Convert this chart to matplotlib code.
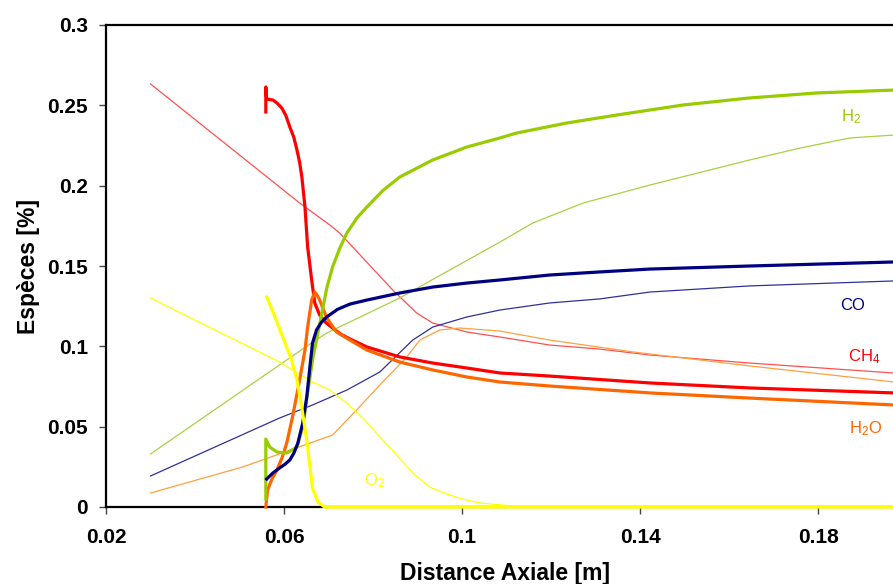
import numpy as np
import matplotlib
matplotlib.use("Agg")
import matplotlib.pyplot as plt

plt.rcParams['font.family'] = ['Liberation Sans', 'DejaVu Sans']
plt.rcParams['mathtext.fontset'] = 'custom'
plt.rcParams['mathtext.rm'] = 'Liberation Sans'
plt.rcParams['mathtext.default'] = 'regular'

# thin lines (second model), start at x = 0.03
x_ch4_b = [0.030, 0.0635, 0.0703, 0.0725, 0.0844, 0.0898, 0.0934, 0.1011, 0.1085, 0.1197, 0.1309, 0.1422, 0.1646, 0.197]
y_ch4_b = [0.2633, 0.1892, 0.1755, 0.1705, 0.1351, 0.1207, 0.1145, 0.1089, 0.1058, 0.1008, 0.0983, 0.0946, 0.0896, 0.0834]

x_h2o_b = [0.030, 0.0507, 0.0709, 0.0763, 0.0815, 0.0876, 0.0905, 0.0950, 0.0995, 0.1085, 0.1197, 0.1384, 0.1646, 0.197]
y_h2o_b = [0.0087, 0.0249, 0.0448, 0.0604, 0.0759, 0.0934, 0.1039, 0.1102, 0.1114, 0.1095, 0.1039, 0.0965, 0.0878, 0.0778]

x_h2_b = [0.030, 0.0606, 0.0665, 0.0696, 0.086, 0.0972, 0.1085, 0.1159, 0.1272, 0.1422, 0.1646, 0.1759, 0.1871, 0.197]
y_h2_b = [0.0330, 0.0915, 0.1027, 0.1083, 0.1301, 0.1475, 0.1649, 0.1768, 0.1892, 0.2004, 0.2160, 0.2234, 0.2297, 0.2315]

x_co_b = [0.030, 0.0590, 0.0664, 0.0741, 0.0815, 0.0889, 0.0934, 0.1011, 0.1085, 0.1197, 0.1309, 0.1422, 0.1646, 0.197]
y_co_b = [0.0193, 0.0554, 0.0635, 0.0728, 0.0840, 0.1039, 0.1120, 0.1183, 0.1226, 0.1270, 0.1295, 0.1338, 0.1376, 0.1407]

x_o2_b = [0.030, 0.0590, 0.0664, 0.0703, 0.0741, 0.0777, 0.0815, 0.0853, 0.0889, 0.0927, 0.0965, 0.1001, 0.1039, 0.1114, 0.1197, 0.197]
y_o2_b = [0.1301, 0.0902, 0.0778, 0.0728, 0.0647, 0.0554, 0.0436, 0.0324, 0.0212, 0.0124, 0.0081, 0.0050, 0.0025, 0.0006, 0.0, 0.0]

# thick lines (first model), start at x = 0.056
x_ch4_a = [0.0559, 0.0559, 0.0561, 0.0575, 0.0584, 0.0595, 0.0604, 0.0613, 0.0622, 0.0629, 0.0635, 0.0640, 0.0647,
           0.0653, 0.0662, 0.0669, 0.0680, 0.0694, 0.0709, 0.0728, 0.0748, 0.0786, 0.0860, 0.0934, 0.1011, 0.1085,
           0.1197, 0.1422, 0.1646, 0.197]
y_ch4_a = [0.2459, 0.2614, 0.2539, 0.2533, 0.2515, 0.2483, 0.2437, 0.2365, 0.2300, 0.2222, 0.2145, 0.2054, 0.1867,
           0.1618, 0.1413, 0.1270, 0.1195, 0.1147, 0.1114, 0.1075, 0.1046, 0.0996, 0.0934, 0.0896, 0.0865, 0.0834,
           0.0815, 0.0772, 0.0741, 0.0710]

x_h2o_a = [0.0559, 0.0563, 0.0573, 0.0584, 0.0596, 0.0606, 0.0619, 0.0635, 0.0647, 0.0653, 0.0662, 0.0669, 0.0674,
           0.0680, 0.0696, 0.0718, 0.0748, 0.0786, 0.0860, 0.0934, 0.1011, 0.1085, 0.1197, 0.1422, 0.1646, 0.197]
y_h2o_a = [0.0, 0.0106, 0.0175, 0.0230, 0.0310, 0.0398, 0.0560, 0.0790, 0.0977, 0.1120, 0.1288, 0.1338, 0.1320,
           0.1288, 0.1176, 0.1089, 0.1039, 0.0977, 0.0902, 0.0853, 0.0809, 0.0778, 0.0753, 0.0710, 0.0678, 0.0635]

x_h2_a = [0.0559, 0.0559, 0.0568, 0.0584, 0.0606, 0.0629, 0.0642, 0.0653, 0.0664, 0.0676, 0.0685, 0.0696, 0.0709,
          0.0725, 0.0741, 0.0764, 0.0786, 0.0822, 0.0860, 0.0934, 0.1011, 0.1085, 0.1123, 0.1235, 0.1348, 0.1496,
          0.1646, 0.1797, 0.197]
y_h2_a = [0.0050, 0.0423, 0.0373, 0.0342, 0.0336, 0.0373, 0.0498, 0.0710, 0.0915, 0.1083, 0.1207, 0.1363, 0.1494,
          0.1610, 0.1705, 0.1800, 0.1867, 0.1970, 0.2054, 0.2160, 0.2241, 0.2297, 0.2328, 0.2390, 0.2440, 0.2502,
          0.2546, 0.2577, 0.2595]

x_co_a = [0.0561, 0.0575, 0.0590, 0.0603, 0.0613, 0.0622, 0.0631, 0.0642, 0.0651, 0.0658, 0.0664, 0.0673, 0.0684,
          0.0696, 0.0720, 0.0748, 0.0786, 0.0860, 0.0934, 0.1011, 0.1085, 0.1197, 0.1309, 0.1422, 0.1646, 0.197]
y_co_a = [0.0174, 0.0212, 0.0243, 0.0268, 0.0293, 0.0335, 0.0398, 0.0523, 0.0685, 0.0871, 0.1021, 0.1102, 0.1150,
          0.1183, 0.1230, 0.1263, 0.1288, 0.1332, 0.1369, 0.1394, 0.1413, 0.1444, 0.1463, 0.1481, 0.1500, 0.1525]

x_o2_a = [0.0561, 0.0575, 0.0597, 0.0617, 0.0629, 0.0640, 0.0651, 0.0658, 0.0664, 0.0676, 0.0691, 0.197]
y_o2_a = [0.1307, 0.1214, 0.1058, 0.0915, 0.0790, 0.0616, 0.0417, 0.0255, 0.0118, 0.0031, 0.0, 0.0]

xticks = [0.02, 0.06, 0.1, 0.14, 0.18]
xtick_labels = ["0.02", "0.06", "0.1", "0.14", "0.18"]
yticks = [0, 0.05, 0.1, 0.15, 0.2, 0.25, 0.3]
ytick_labels = ["0", "0.05", "0.1", "0.15", "0.2", "0.25", "0.3"]

fig = plt.figure(figsize=(8.93, 5.84), dpi=100)
ax = fig.add_axes([106 / 893, 1 - 507 / 584, 787 / 893, 482 / 584])

thin = 0.9
thick = 2.3
ax.plot(x_ch4_b, y_ch4_b, color='#FF5050', lw=thin, clip_on=False, zorder=3)
ax.plot(x_h2o_b, y_h2o_b, color='#FFA040', lw=thin, clip_on=False, zorder=3)
ax.plot(x_h2_b, y_h2_b, color='#A8D040', lw=thin, clip_on=False, zorder=3)
ax.plot(x_co_b, y_co_b, color='#30309A', lw=thin, clip_on=False, zorder=3)
ax.plot(x_o2_b, y_o2_b, color='#FFFF00', lw=thin, clip_on=False, zorder=3)

ax.plot(x_ch4_a, y_ch4_a, color='#FF0000', lw=thick, clip_on=False, zorder=4)
ax.plot(x_h2o_a, y_h2o_a, color='#FF6600', lw=thick, clip_on=False, zorder=4)
ax.plot(x_h2_a, y_h2_a, color='#99CC00', lw=thick, clip_on=False, zorder=4)
ax.plot(x_co_a, y_co_a, color='#000080', lw=thick, clip_on=False, zorder=4)
ax.plot(x_o2_a, y_o2_a, color='#FFFF00', lw=thick, clip_on=False, zorder=4)

# series labels
lab = dict(fontsize=12, ha='center', va='center')
ax.text(0.1873, 0.2427, "H$_2$", color='#99CC00', **lab)
ax.text(0.1878, 0.1257, "CO", color='#000080', **lab)
ax.text(0.1903, 0.0934, "CH$_4$", color='#FF0000', **lab)
ax.text(0.1907, 0.0486, "H$_2$O", color='#FF6600', **lab)
ax.text(0.0804, 0.0162, "O$_2$", color='#FFFF00', **lab)

ax.set_xlim(0.02, 0.1968)
ax.set_ylim(0, 0.3)
ax.set_xticks(xticks)
ax.set_xticklabels(xtick_labels, fontsize=15, fontweight='bold')
ax.set_yticks(yticks)
ax.set_yticklabels(ytick_labels, fontsize=15, fontweight='bold')
ax.tick_params(axis='x', length=5, width=1, color='#444444', pad=10)
ax.tick_params(axis='y', length=5, width=1, color='#444444', pad=8)

for s in ['left', 'bottom', 'top']:
    ax.spines[s].set_linewidth(1.6)
    ax.spines[s].set_color('black')
ax.spines['right'].set_visible(False)

ax.set_xlabel("Distance Axiale [m]", fontsize=16.5, fontweight='bold', va='center')
ax.set_ylabel("Espèces [%]", fontsize=16.5, fontweight='bold', va='center')
ax.xaxis.set_label_coords(0.5075, -0.139)
ax.yaxis.set_label_coords(-0.099, 0.5)

fig.savefig("out.png", dpi=100)
